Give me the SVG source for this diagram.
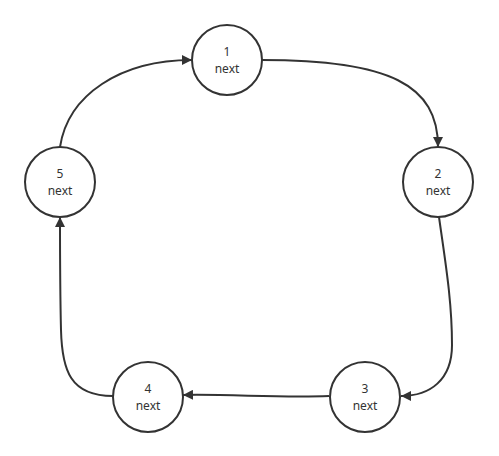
<svg xmlns="http://www.w3.org/2000/svg" width="499" height="456" viewBox="0 0 499 456">
<style>
.node circle{fill:#fff;stroke:#333;stroke-width:2}
.node text{font-family:"Noto Sans","DejaVu Sans",sans-serif;font-size:12px;fill:#333;text-anchor:middle}
.edge{fill:none;stroke:#333;stroke-width:2;marker-end:url(#arr)}
</style>
<defs>
<marker id="arr" viewBox="0 0 10 10" refX="10" refY="5" markerWidth="10" markerHeight="10" markerUnits="userSpaceOnUse" orient="auto">
<path d="M0,0 L10,5 L0,10 z" fill="#333"/>
</marker>
</defs>
<rect width="499" height="456" fill="#fff"/>
<g id="connectors">
<path class="edge" d="M262,60 C390,60 438,85 438,147"/>
<path class="edge" d="M439,217 C445,260 452,300 452,345 C452,380 430,396 401,396"/>
<path class="edge" d="M329,396 C280,398 230,394 183,395"/>
<path class="edge" d="M113,396 C70,396 62,370 61,330 C60,290 60,250 60,217"/>
<path class="edge" d="M60,147 C68,95 120,60 192,60"/>
</g>
<g id="node1" class="node"><circle cx="227" cy="60" r="35"/><text x="227" y="56">1</text><text x="227" y="73">next</text></g>
<g id="node2" class="node"><circle cx="438" cy="182" r="35"/><text x="438" y="178">2</text><text x="438" y="195">next</text></g>
<g id="node3" class="node"><circle cx="365" cy="397" r="35"/><text x="365" y="393">3</text><text x="365" y="410">next</text></g>
<g id="node4" class="node"><circle cx="148" cy="397" r="35"/><text x="148" y="393">4</text><text x="148" y="410">next</text></g>
<g id="node5" class="node"><circle cx="60" cy="182" r="35"/><text x="60" y="178">5</text><text x="60" y="195">next</text></g>
</svg>
